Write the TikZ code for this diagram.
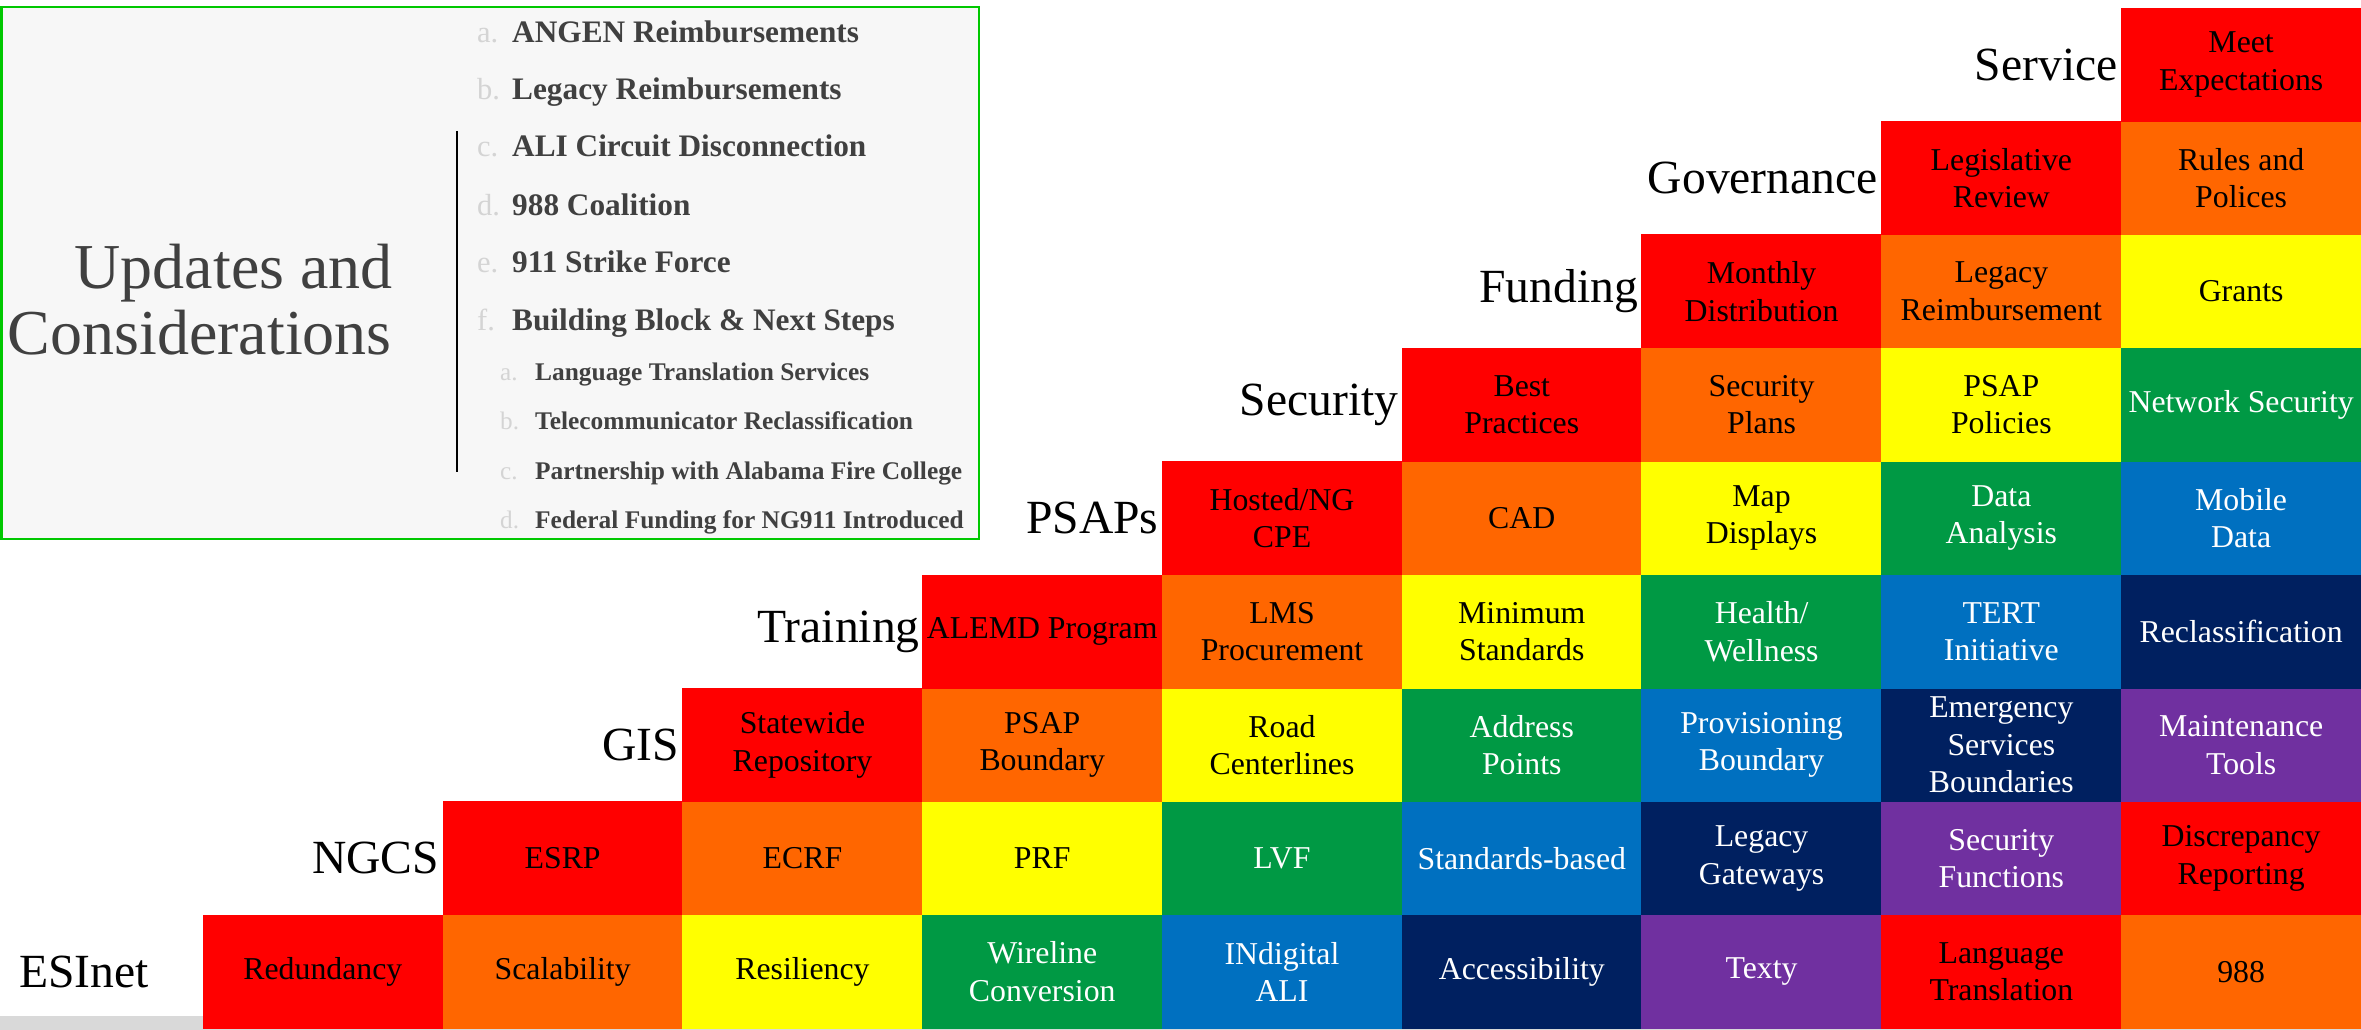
\documentclass[tikz,border=0pt]{standalone}
\usepackage{fontspec}
\setmainfont{Liberation Serif}

% block colours, cycling left to right along every row
\definecolor{hue0}{HTML}{FF0000}
\definecolor{hue1}{HTML}{FF6600}
\definecolor{hue2}{HTML}{FFFF00}
\definecolor{hue3}{HTML}{009944}
\definecolor{hue4}{HTML}{0070C0}
\definecolor{hue5}{HTML}{002060}
\definecolor{hue6}{HTML}{7030A0}
\colorlet{ink0}{black}
\colorlet{ink1}{black}
\colorlet{ink2}{black}
\colorlet{ink3}{white}
\colorlet{ink4}{white}
\colorlet{ink5}{white}
\colorlet{ink6}{white}
\definecolor{panelbg}{HTML}{F7F7F7}
\definecolor{panelframe}{HTML}{00C800}
\definecolor{darktext}{HTML}{404040}
\definecolor{lighttext}{HTML}{D4D4D4}
\definecolor{baseband}{HTML}{D9D9D9}

% one row of the staircase: #1 row index (0 = bottom), #2 cell texts
\newcommand\blockrow[2]{%
  \foreach \txt [count=\k from 0] in {#2} {%
    \pgfmathtruncatemacro\m{mod(\k,7)}%
    \pgfmathsetmacro\cx{203+(#1+\k+0.5)*239.78}%
    \pgfmathsetmacro\cy{1028.5-(#1+0.5)*113.4}%
    \node[cell, fill=hue\m, text=ink\m] (cell-#1-\k) at (\cx,\cy) {\txt};
  }%
}

\begin{document}
\begin{tikzpicture}[x=1pt,y=-1pt,
  cell/.style={minimum width=240.3pt, minimum height=113.9pt, inner sep=0pt,
    align=center, font=\fontsize{31.8}{37.5}\selectfont},
  rowlabel/.style={anchor=east, inner sep=0pt,
    font=\fontsize{47.6}{50}\selectfont},
  title/.style={anchor=base east, inner sep=0pt, text=darktext,
    font=\fontsize{64}{66}\selectfont},
  itemmark/.style={anchor=base west, inner sep=0pt, text=lighttext},
  itemtext/.style={anchor=base west, inner sep=0pt, text=darktext},
  bigitem/.style={font=\fontsize{31.3}{33}\selectfont\bfseries},
  smallitem/.style={font=\fontsize{25.4}{27}\selectfont\bfseries}]

% page
\fill[white] (0,0) rectangle (2361,1030);
\useasboundingbox (0,0) rectangle (2361,1030);

% grey base band
\fill[baseband] (0,1016) rectangle (203,1030);
\fill[baseband] (203,1027) rectangle (2361,1030);

% staircase of blocks
\blockrow{0}{Redundancy, Scalability, Resiliency, {Wireline\\Conversion},
  {INdigital\\ALI}, Accessibility, Texty, {Language\\Translation}, 988}
\blockrow{1}{ESRP, ECRF, PRF, LVF, Standards-based, {Legacy\\Gateways},
  {Security\\Functions}, {Discrepancy\\Reporting}}
\blockrow{2}{{Statewide\\Repository}, {PSAP\\Boundary}, {Road\\Centerlines},
  {Address\\Points}, {Provisioning\\Boundary},
  {Emergency\\Services\\Boundaries}, {Maintenance\\Tools}}
\blockrow{3}{ALEMD Program, {LMS\\Procurement}, {Minimum\\Standards},
  {Health/\\Wellness}, {TERT\\Initiative}, Reclassification}
\blockrow{4}{{Hosted/NG\\CPE}, CAD, {Map\\Displays}, {Data\\Analysis},
  {Mobile\\Data}}
\blockrow{5}{{Best\\Practices}, {Security\\Plans}, {PSAP\\Policies},
  Network Security}
\blockrow{6}{{Monthly\\Distribution}, {Legacy\\Reimbursement}, Grants}
\blockrow{7}{{Legislative\\Review}, {Rules and\\Polices}}
\blockrow{8}{{Meet\\Expectations}}

% row labels
\node[rowlabel, anchor=west] (lab-0) at (19,971.8) {ESInet};
\node[rowlabel] (lab-1) at ([xshift=-3pt]cell-1-0.west) {NGCS};
\node[rowlabel] (lab-2) at ([xshift=-3pt]cell-2-0.west) {GIS};
\node[rowlabel] (lab-3) at ([xshift=-2pt]cell-3-0.west) {Training};
\node[rowlabel] (lab-4) at ([xshift=-3pt]cell-4-0.west) {PSAPs};
\node[rowlabel] (lab-5) at ([xshift=-3pt]cell-5-0.west) {Security};
\node[rowlabel] (lab-6) at ([xshift=-3pt]cell-6-0.west) {Funding};
\node[rowlabel] (lab-7) at ([xshift=-3pt]cell-7-0.west) {Governance};
\node[rowlabel] (lab-8) at ([xshift=-3pt]cell-8-0.west) {Service};

% agenda panel
\path[fill=panelbg, draw=panelframe, line width=2.5pt] (1.25,7) rectangle (979,539);
\node[title] (title-1) at (393,288) {Updates and};
\node[title] (title-2) at (392,354) {Considerations};
\draw[line width=2.2pt] (457,131) -- (457,472);

\foreach \mk/\txt/\yy [count=\i] in {
    a./ANGEN Reimbursements/43,
    b./Legacy Reimbursements/100,
    c./ALI Circuit Disconnection/157,
    d./988 Coalition/215,
    e./911 Strike Force/272,
    f./Building Block \& Next Steps/330} {
  \node[itemmark, font=\fontsize{30.5}{32}\selectfont] (mk-\i) at (477,\yy) {\mk};
  \node[itemtext, bigitem] (it-\i) at (512,\yy) {\txt};
}
\foreach \mk/\txt/\yy [count=\i] in {
    a./Language Translation Services/380,
    b./Telecommunicator Reclassification/429,
    c./Partnership with Alabama Fire College/479,
    d./Federal Funding for NG911 Introduced/528} {
  \node[itemmark, font=\fontsize{25.2}{27}\selectfont] (smk-\i) at (500,\yy) {\mk};
  \node[itemtext, smallitem] (sit-\i) at (535,\yy) {\txt};
}
\end{tikzpicture}
\end{document}
